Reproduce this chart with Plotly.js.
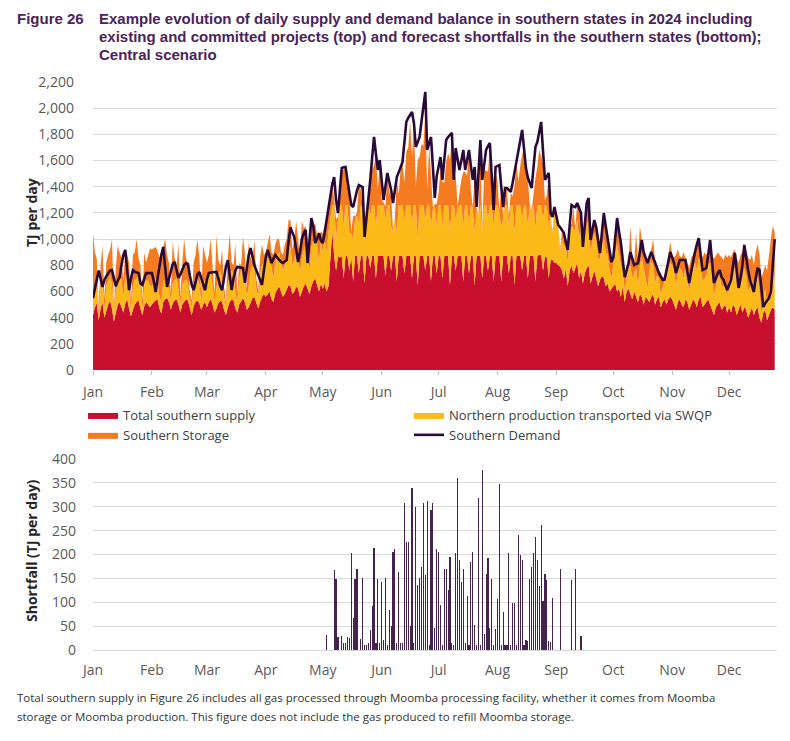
<!DOCTYPE html>
<html>
<head>
<meta charset="utf-8">
<script src="https://cdn.plot.ly/plotly-3.0.1.min.js"></script>
<style>html,body{margin:0;padding:0;background:#fff}#chart{width:790px;height:741px}</style>
</head>
<body>
<div id="chart"></div>
<script>
// ---- Data (TJ/day), one value per day from 1 Jan 2024 ----
const monthLabels = ['Jan','Feb','Mar','Apr','May','Jun','Jul','Aug','Sep','Oct','Nov','Dec'];

const southernSupply = [
  420,480,510,380,470,520,400,460,500,530,470,370,450,500,520,480,440,510,540,470,410,460,500,520,530,470,420,490,520,500,480,
  500,520,530,540,470,430,520,540,550,520,460,510,530,540,500,440,500,520,540,530,470,420,490,520,530,510,460,500,520,
  480,520,540,500,440,470,510,530,520,460,420,480,520,540,530,470,440,500,530,550,520,460,480,520,550,560,510,470,520,560,580,
  560,580,600,540,520,590,620,640,600,560,580,620,650,640,580,600,640,620,560,600,640,660,620,580,640,680,700,650,600,660,
  620,660,600,640,900,1060,870,760,870,860,870,700,870,870,760,870,680,870,870,740,870,870,660,870,870,780,870,870,700,870,870,
  870,870,720,870,870,760,870,870,680,870,870,870,740,870,870,870,700,870,870,650,870,870,870,760,870,870,680,870,870,740,
  870,870,700,870,870,870,650,870,870,760,870,870,870,680,870,870,740,870,870,650,870,870,870,700,870,870,760,870,870,680,870,
  870,870,680,870,870,870,740,870,870,650,870,870,870,760,870,870,700,870,870,870,680,870,880,880,760,870,860,700,840,840,820,
  820,800,790,760,700,780,640,760,800,740,780,820,700,760,660,740,780,800,660,720,760,700,640,690,720,700,640,660,600,620,
  640,660,600,620,560,640,520,600,620,580,540,600,560,520,580,560,500,560,540,520,560,580,500,540,560,480,520,540,500,540,560,
  540,500,460,520,540,500,480,540,520,460,500,540,520,480,540,560,480,500,520,540,500,460,420,480,500,520,460,480,500,440,
  480,440,500,480,420,460,500,440,480,460,400,440,480,420,460,480,400,360,440,460,380,420,460,480,460
];

const northernSWQP = [
  140,140,190,40,180,180,60,180,190,190,180,30,150,180,180,210,120,190,200,130,40,180,190,180,190,190,40,160,170,180,160,
  140,140,170,150,90,90,160,150,150,120,60,150,160,160,120,60,150,160,150,130,70,60,150,160,170,150,60,150,170,
  200,200,200,150,80,170,210,230,180,100,60,180,200,220,210,130,80,200,230,230,180,100,160,240,250,220,110,90,220,240,240,
  240,280,300,240,180,230,260,260,220,200,220,280,310,300,220,240,280,260,180,260,280,300,260,180,300,320,340,310,220,320,
  280,340,300,410,250,200,390,240,280,400,390,400,390,390,290,170,320,280,310,380,390,360,340,250,390,400,390,390,400,390,390,
  390,390,430,390,390,340,190,290,370,390,390,390,410,390,390,390,420,390,390,350,390,390,390,390,390,390,420,360,380,360,
  390,390,400,390,390,390,400,390,390,390,370,390,390,420,390,390,380,390,370,400,350,300,390,360,390,390,390,390,390,420,390,
  390,330,420,280,390,390,360,390,390,400,390,390,390,390,390,390,400,390,330,390,400,390,380,380,390,390,390,400,330,210,380,
  330,300,110,240,250,170,180,290,300,340,280,330,300,360,240,310,320,350,240,260,290,300,210,160,230,300,260,220,160,80,
  180,240,360,260,240,120,80,100,160,220,160,140,220,120,220,300,280,140,80,240,280,220,160,180,140,100,120,140,200,240,260,
  260,260,180,220,240,260,220,240,180,140,200,240,300,280,320,240,200,200,200,260,320,240,140,160,200,200,180,160,120,120,
  220,240,260,300,220,160,220,260,300,260,200,200,220,160,260,220,200,80,120,160,120,140,260,280,240
];

const southernStorage = [
  480,280,150,60,150,250,80,180,190,200,350,50,180,270,200,170,120,220,140,220,60,240,210,300,130,140,70,250,130,200,290,
  280,270,240,220,300,360,250,310,180,180,60,320,160,100,340,60,170,320,170,140,60,50,180,200,300,200,60,300,190,
  140,160,260,130,60,390,120,40,220,80,40,200,320,60,60,360,60,120,40,240,180,60,340,100,20,220,80,50,120,160,60,
  100,100,140,120,180,140,120,100,80,120,160,100,190,200,120,160,220,120,120,280,160,140,120,140,220,100,80,80,180,80,
  140,100,219,180,200,160,47,152,21,120,253,433,276,162,277,16,177,24,21,293,122,17,6,20,24,228,268,306,535,120,329,
  48,19,100,235,97,224,10,9,409,86,276,314,283,408,438,639,511,612,145,603,370,466,453,817,109,460,386,13,17,169,
  95,272,342,171,328,395,555,536,182,342,9,80,198,412,253,226,551,115,6,449,15,11,487,15,267,262,367,427,72,112,246,
  194,18,290,16,120,120,71,90,72,357,320,180,301,496,420,263,351,12,16,86,388,294,425,373,418,33,84,386,13,10,45,
  20,10,21,70,100,40,110,50,14,170,16,130,240,49,50,50,180,164,100,90,100,95,150,50,100,199,200,120,150,130,
  60,110,210,190,200,90,120,80,50,300,160,80,270,190,300,140,130,160,210,110,80,200,170,80,60,160,60,40,80,100,160,
  80,100,240,180,90,100,200,80,120,180,160,100,100,220,160,100,180,200,160,100,180,180,290,230,200,160,220,200,260,300,
  180,180,140,140,220,200,160,200,180,180,260,200,180,220,180,260,280,260,200,180,260,340,280,340,350
];

const southernDemand = [
  550,620,700,760,700,634,690,720,740,760,763,700,640,680,710,800,880,917,750,610,700,763,750,745,740,660,650,700,740,740,740,
  740,680,596,700,800,880,940,800,634,700,760,810,825,760,703,730,770,800,817,810,720,650,610,680,730,749,700,640,610,
  690,740,745,748,749,749,700,640,610,700,790,840,720,610,700,760,787,785,780,779,665,780,880,932,860,800,763,720,680,650,760,
  860,917,870,817,850,879,860,840,825,817,830,840,980,1092,1050,1016,920,825,900,1000,1046,1070,817,1000,1160,1100,970,1000,1046,990,
  970,1050,1150,1222,1350,1420,1474,1300,1199,1380,1543,1548,1551,1450,1352,1260,1245,1322,1370,1413,1405,1398,1016,1150,1299,1450,1620,1780,1650,1528,1604,
  1450,1299,1400,1505,1440,1375,1276,1380,1474,1510,1551,1589,1740,1895,1925,1950,1971,1887,1704,1740,1780,1900,2020,2124,1681,1730,1780,1550,1314,1480,
  1560,1627,1452,1600,1757,1780,1800,1811,1452,1696,1610,1528,1600,1681,1528,1600,1681,1560,1452,1551,1245,1500,1757,1452,1560,1681,1710,1734,1480,1222,1551,
  1560,1566,1400,1245,1390,1390,1375,1360,1430,1505,1590,1681,1760,1834,1690,1543,1470,1420,1390,1550,1704,1742,1820,1895,1670,1452,1480,1505,1199,1169,1245,
  1170,1108,1090,1070,1046,980,917,1100,1260,1250,1245,1276,1240,1199,940,1100,1276,1314,993,1070,1146,1092,1000,894,1050,1199,1100,1000,900,825,
  856,1000,1161,1060,970,840,710,760,817,901,850,802,810,817,900,993,900,850,817,860,901,860,817,780,741,715,688,690,760,850,901,
  860,817,741,790,840,840,840,840,750,665,750,840,900,960,1008,880,763,770,779,880,993,830,665,700,740,763,710,690,650,610,
  650,688,790,894,760,627,700,800,955,850,760,688,640,596,700,779,763,600,481,510,530,550,600,800,1000
];

// Shortfall (bottom chart): day-of-year index and TJ/day
const shortfallDays = [123,127,128,129,131,132,133,134,135,136,137,138,139,141,142,143,144,145,146,147,148,149,150,151,
  152,153,154,155,156,157,158,159,160,161,162,163,164,165,166,167,168,169,170,171,172,173,174,175,176,177,178,179,180,181,
  182,183,184,185,186,187,188,189,190,191,192,193,194,195,196,197,198,199,200,201,202,203,204,205,206,207,208,209,210,211,212,
  213,214,215,216,217,218,219,220,221,222,223,224,225,226,227,228,229,230,231,232,233,234,235,236,237,238,239,240,241,242,
  246,252,254,257];
const shortfallValues = [31,167,148,28,30,15,15,28,25,204,68,148,169,23,151,10,10,15,42,92,214,15,148,15,
  142,20,150,10,83,51,206,211,15,164,15,15,307,227,227,51,340,15,299,137,150,174,307,157,312,10,294,307,47,211,
  205,95,10,169,169,125,195,15,10,204,361,188,142,169,15,114,10,185,206,52,10,319,10,377,33,159,193,47,148,10,45,
  106,348,10,79,10,10,204,10,98,98,10,241,199,188,10,20,19,148,174,204,236,188,135,262,102,159,146,19,16,109,
  169,146,169,30];

// ---- helpers ----
const DAY = 86400000, T0 = Date.UTC(2024,0,1);
const dayToDate = d => new Date(T0 + d*DAY).toISOString().slice(0,10);
const dates = southernDemand.map((_, i) => dayToDate(i));
const shortDates = shortfallDays.map(dayToDate);

const W = 790, H = 741;
const px = x => x / W, py = y => 1 - y / H;

const C_RED = '#C8102E', C_YEL = '#FBBA18', C_ORG = '#F47B20', C_DEM = '#2A0A38', C_BAR = '#45234F';
const TICK_FONT = {family:'Open Sans, sans-serif', size:14, color:'#595959'};

const traces = [
  {type:'scatter', x:dates, y:southernSupply, name:'Total southern supply', stackgroup:'s', mode:'lines',
   line:{width:0, color:C_RED}, fillcolor:C_RED, xaxis:'x', yaxis:'y'},
  {type:'scatter', x:dates, y:northernSWQP, name:'Northern production transported via SWQP', stackgroup:'s', mode:'lines',
   line:{width:0, color:C_YEL}, fillcolor:C_YEL, xaxis:'x', yaxis:'y'},
  {type:'scatter', x:dates, y:southernStorage, name:'Southern Storage', stackgroup:'s', mode:'lines',
   line:{width:0, color:C_ORG}, fillcolor:C_ORG, xaxis:'x', yaxis:'y'},
  {type:'scatter', x:dates, y:southernDemand, name:'Southern Demand', mode:'lines',
   line:{width:2.6, color:C_DEM}, xaxis:'x', yaxis:'y'},
  {type:'bar', x:shortDates, y:shortfallValues, name:'Shortfall', showlegend:false,
   marker:{color:C_BAR, line:{width:0}}, width:0.6*DAY, xaxis:'x2', yaxis:'y2'}
];

const xRange = ['2024-01-01', '2024-12-26'];
const xDomain = [px(93), px(776.6)];

const baseX = {
  type:'date', range:xRange, domain:xDomain, tick0:'2024-01-01', dtick:'M1', tickformat:'%b',
  showgrid:false, zeroline:false, showline:false, tickfont:TICK_FONT, fixedrange:true
};

const layout = {
  width:W, height:H, margin:{l:0, r:0, t:0, b:0}, paper_bgcolor:'#fff', plot_bgcolor:'#fff',
  showlegend:true,
  xaxis: Object.assign({}, baseX, {anchor:'y', ticks:'outside', ticklen:4, tickcolor:'#bfbfbf', ticklabelstandoff:5}),
  yaxis: {domain:[py(370), py(82)], range:[0,2200], dtick:200, tickformat:',', gridcolor:'#d9d9d9', gridwidth:1,
          zeroline:false, showline:false, tickfont:TICK_FONT, ticklabelstandoff:18, anchor:'x', fixedrange:true},
  xaxis2: Object.assign({}, baseX, {anchor:'y2', ticks:'', ticklabelstandoff:10}),
  yaxis2: {domain:[py(650), py(459)], range:[0,400], dtick:50, gridcolor:'#d9d9d9', gridwidth:1,
           zeroline:true, zerolinecolor:'#d9d9d9', zerolinewidth:1, showline:false,
           tickfont:TICK_FONT, ticklabelstandoff:16, anchor:'x2', fixedrange:true},
  bargap:0,
  legend:{orientation:'h', x:px(83), xanchor:'left', y:py(400), yanchor:'top',
          entrywidth:281, entrywidthmode:'pixels', traceorder:'normal',
          font:{family:'Open Sans, sans-serif', size:13, color:'#404040'}, bgcolor:'rgba(0,0,0,0)', itemclick:false},
  annotations:[
    {text:'<b>Figure 26</b>', x:px(15), y:py(18), xref:'paper', yref:'paper', xanchor:'left', yanchor:'middle', showarrow:false,
     font:{family:'Liberation Sans, Arial, sans-serif', size:15, color:'#4A235A'}},
    {text:'<b>Example evolution of daily supply and demand balance in southern states in 2024 including</b>', x:px(97), y:py(18),
     xref:'paper', yref:'paper', xanchor:'left', yanchor:'middle', showarrow:false,
     font:{family:'Liberation Sans, Arial, sans-serif', size:15, color:'#4A235A'}},
    {text:'<b>existing and committed projects (top) and forecast shortfalls in the southern states (bottom);</b>', x:px(97), y:py(36),
     xref:'paper', yref:'paper', xanchor:'left', yanchor:'middle', showarrow:false,
     font:{family:'Liberation Sans, Arial, sans-serif', size:15, color:'#4A235A'}},
    {text:'<b>Central scenario</b>', x:px(97), y:py(54),
     xref:'paper', yref:'paper', xanchor:'left', yanchor:'middle', showarrow:false,
     font:{family:'Liberation Sans, Arial, sans-serif', size:15, color:'#4A235A'}},
    {text:'<b>TJ per day</b>', x:px(32), y:py(213), xref:'paper', yref:'paper', xanchor:'center', yanchor:'middle',
     textangle:-90, showarrow:false, font:{family:'Open Sans, sans-serif', size:14, color:'#262626'}},
    {text:'<b>Shortfall (TJ per day)</b>', x:px(31), y:py(551), xref:'paper', yref:'paper', xanchor:'center', yanchor:'middle',
     textangle:-90, showarrow:false, font:{family:'Open Sans, sans-serif', size:14, color:'#262626'}},
    {text:'Total southern supply in Figure 26 includes all gas processed through Moomba processing facility, whether it comes from Moomba',
     x:px(15), y:py(697), xref:'paper', yref:'paper', xanchor:'left', yanchor:'middle', showarrow:false,
     font:{family:'Open Sans, sans-serif', size:11.5, color:'#333333'}},
    {text:'storage or Moomba production. This figure does not include the gas produced to refill Moomba storage.',
     x:px(15), y:py(716), xref:'paper', yref:'paper', xanchor:'left', yanchor:'middle', showarrow:false,
     font:{family:'Open Sans, sans-serif', size:11.5, color:'#333333'}}
  ]
};

Plotly.newPlot('chart', traces, layout, {displayModeBar:false, staticPlot:true});
</script>
</body>
</html>
